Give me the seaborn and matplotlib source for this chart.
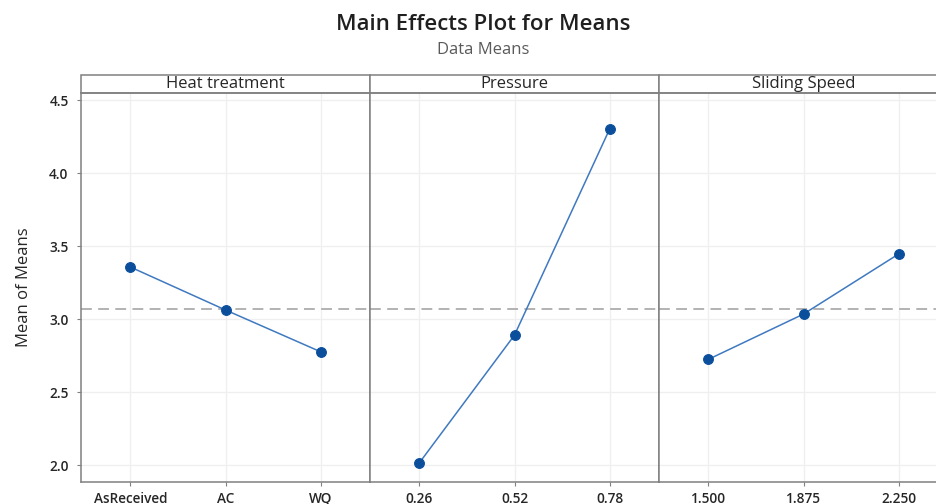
import numpy as np
import pandas as pd
import matplotlib
matplotlib.use("Agg")
import matplotlib.pyplot as plt
from matplotlib.patches import Rectangle
import seaborn as sns

# Factor names and level means
factors = ["Heat treatment", "Pressure", "Sliding Speed"]
heat_levels = ["AsReceived", "AC", "WQ"]
heat_means = [3.356, 3.062, 2.776]
pressure_levels = ["0.26", "0.52", "0.78"]
pressure_means = [2.016, 2.890, 4.300]
speed_levels = ["1.500", "1.875", "2.250"]
speed_means = [2.724, 3.034, 3.445]
y_ticks = [2.0, 2.5, 3.0, 3.5, 4.0, 4.5]

levels_by_factor = [heat_levels, pressure_levels, speed_levels]
means_by_factor = [heat_means, pressure_means, speed_means]
grand_mean = float(np.mean(np.concatenate(means_by_factor)))

sns.set_theme(style="white")
plt.rcParams["font.family"] = ["Open Sans", "DejaVu Sans"]

W, H = 936, 504
fig = plt.figure(figsize=(W / 100, H / 100), dpi=100)

panel_left = 81
panel_w = 289
plot_top = 93
plot_bottom = 482
plot_h = plot_bottom - plot_top
strip_h = 18

line_color = "#3F79C0"
marker_color = "#0B4F9C"
spine_color = "#808080"
grid_color = "#EFEFEF"
text_color = "#262626"

axes = []
for i, (factor, levels, means) in enumerate(zip(factors, levels_by_factor, means_by_factor)):
    ax = fig.add_axes([(panel_left + i * panel_w) / W, 1 - plot_bottom / H,
                       panel_w / W, plot_h / H])
    df = pd.DataFrame({"level": levels, "mean": means})
    ax.axhline(grand_mean, color="#ADADAD", lw=1.3, ls=(0, (6, 3.5)), zorder=1)
    sns.pointplot(data=df, x="level", y="mean", order=levels, errorbar=None,
                  color=line_color, markers="o", linestyles="-",
                  markersize=7, linewidth=1.1, ax=ax, zorder=3)
    for ln in ax.lines:
        if ln.get_marker() not in (None, "None", ""):
            ln.set_markerfacecolor(marker_color)
            ln.set_markeredgecolor(marker_color)

    ax.set_xlim(-0.52, 2.52)
    ax.set_ylim(1.884, 4.548)
    ax.set_yticks(y_ticks)
    ax.set_xticks(range(len(levels)))
    ax.set_xticklabels(levels)
    ax.set_xlabel("")
    ax.set_ylabel("")
    ax.grid(True, color=grid_color, lw=0.9)
    ax.set_axisbelow(True)
    for s in ax.spines.values():
        s.set_color(spine_color)
        s.set_linewidth(1.1)
    ax.tick_params(axis="x", bottom=True, length=3, width=0.8, color=spine_color,
                   labelsize=9.8, labelcolor=text_color, pad=4)
    if i == 0:
        ax.tick_params(axis="y", left=True, length=3, width=0.8, color=spine_color,
                       labelsize=9.8, labelcolor=text_color, pad=6)
        ax.set_yticklabels([f"{t:.1f}" for t in y_ticks], fontweight="semibold")
    else:
        ax.tick_params(axis="y", left=False, labelleft=False)
    for lab in ax.get_xticklabels():
        lab.set_fontweight("semibold")

    # facet header strip
    sh = strip_h / plot_h
    ax.add_patch(Rectangle((0, 1), 1, sh, transform=ax.transAxes, clip_on=False,
                           facecolor="white", edgecolor=spine_color, lw=1.1))
    ax.text(0.5, 1 + sh / 2, factor, transform=ax.transAxes, ha="center",
            va="center", fontsize=12, color=text_color)
    axes.append(ax)

axes[0].set_ylabel("Mean of Means", fontsize=12, color=text_color, labelpad=12)

fig.text(483 / W, 1 - 25 / H, "Main Effects Plot for Means", ha="center",
         va="center", fontsize=16, fontweight="semibold", color="#1f1f1f")
fig.text(483 / W, 1 - 50 / H, "Data Means", ha="center", va="center",
         fontsize=12, color="#5a5a5a")

fig.savefig("out.png", dpi=100)
